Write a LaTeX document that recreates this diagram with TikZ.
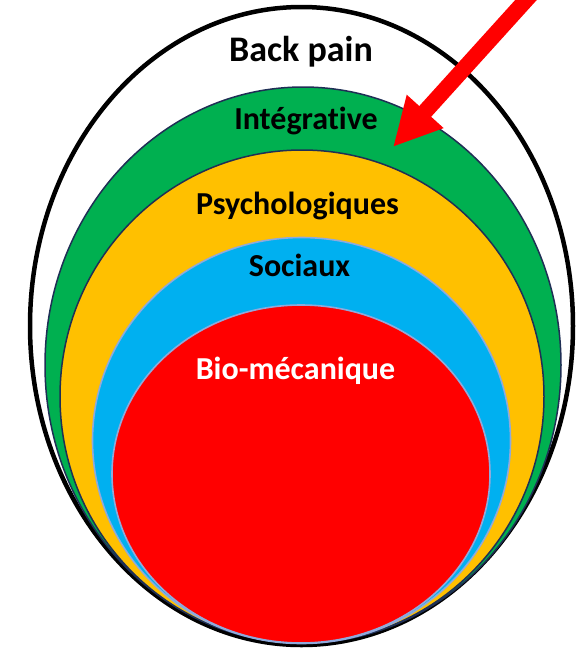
\documentclass[tikz,border=0pt]{standalone}
\usepackage{fontspec}
\setmainfont{Carlito}[Ligatures=NoCommon]
\usetikzlibrary{arrows.meta}
\definecolor{layergreen}{HTML}{00B050}
\definecolor{layeryellow}{HTML}{FFC000}
\definecolor{layerblue}{HTML}{00B0F0}
\definecolor{layerred}{HTML}{FF0000}
\definecolor{layernavy}{HTML}{1F2F55}
\definecolor{layeredge}{HTML}{8FAADC}
\tikzset{
  label/.style={anchor=base, inner sep=0pt},
  darkring/.style={draw=layernavy, line width=1.5pt},
  lightring/.style={draw=layeredge, line width=1.6pt}
}
\begin{document}
\begin{tikzpicture}[x=1pt, y=-1pt, font=\bfseries\fontsize{32}{37}\selectfont]
  \useasboundingbox (0,0) rectangle (583,657);
  \draw[fill=white, line width=4.5pt] (301.5,326) ellipse [x radius=271.5, y radius=319];
  \draw[darkring, fill=layergreen] (303,365) ellipse [x radius=258, y radius=278];
  \draw[darkring, fill=layeryellow] (302,396.5) ellipse [x radius=242, y radius=246.5];
  \draw[lightring, fill=layerblue] (301.5,440.5) ellipse [x radius=209, y radius=203];
  \draw[lightring, fill=layerred] (301,474) ellipse [x radius=189, y radius=169];
  \node[label, font=\bfseries\fontsize{36}{41}\selectfont] (backpain) at (301,61) {Back pain};
  \node[label] (integrative) at (306,129) {Intégrative};
  \node[label] (psycho) at (297.5,214) {Psychologiques};
  \node[label] (sociaux) at (299.5,276) {Sociaux};
  \node[label, text=white] (biomeca) at (295.5,379) {Bio-mécanique};
  \coordinate (arrowtail) at (531.4,-6);
  \coordinate (arrowtip) at (393,147);
  \draw[-{Triangle[length=48pt, width=46pt]}, line width=16pt, draw=layerred] (arrowtail) -- (arrowtip);
\end{tikzpicture}
\end{document}
